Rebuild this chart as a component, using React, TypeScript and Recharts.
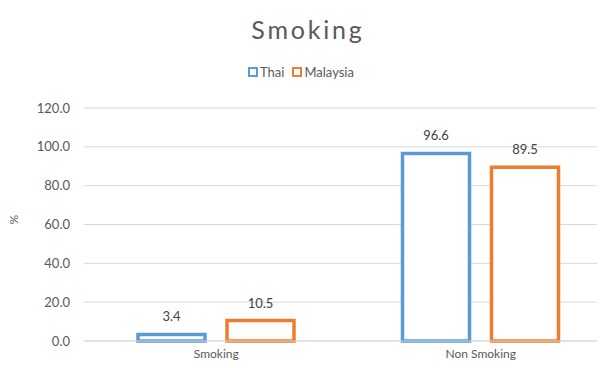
import { BarChart, Bar, XAxis, YAxis, CartesianGrid, LabelList } from "recharts";

const categories = ["Smoking", "Non Smoking"];
const thai = [3.4, 96.6];
const malaysia = [10.5, 89.5];
const yTicks = [0, 20, 40, 60, 80, 100, 120];

const data = categories.map((name, i) => ({ name, thai: thai[i], malaysia: malaysia[i] }));

const font = "Lato, 'Open Sans', sans-serif";
const gray = "#595959";
const blue = "#5B9BD5";
const orange = "#ED7D31";

const legendItems = [
  { label: "Thai", color: blue },
  { label: "Malaysia", color: orange },
];

export default function App() {
  return (
    <div style={{ margin: -8, width: 605, height: 368, overflow: "hidden", position: "relative", background: "#fff" }}>
      <div
        style={{
          position: "absolute",
          top: 14,
          left: 0,
          width: 616,
          textAlign: "center",
          fontFamily: font,
          fontSize: 25,
          letterSpacing: 2.8,
          color: gray,
        }}
      >
        Smoking
      </div>
      <div
        style={{
          position: "absolute",
          top: 64,
          left: 0,
          width: 610,
          display: "flex",
          justifyContent: "center",
          fontFamily: font,
          fontSize: 13,
          color: gray,
        }}
      >
        {legendItems.map((item) => (
          <span key={item.label} style={{ display: "flex", alignItems: "center", marginRight: 8 }}>
            <span
              style={{
                display: "inline-block",
                width: 6,
                height: 6,
                border: `2.5px solid ${item.color}`,
                background: "#fff",
                marginRight: 2,
              }}
            />
            {item.label}
          </span>
        ))}
      </div>
      <BarChart
        width={613}
        height={368}
        data={data}
        margin={{ top: 108, right: 0, bottom: 0, left: 0 }}
        barGap={22}
        barSize={67}
      >
        <CartesianGrid horizontal vertical={false} stroke="#d9d9d9" />
        <XAxis
          dataKey="name"
          height={27}
          axisLine={{ stroke: "#d9d9d9" }}
          tickLine={false}
          tickSize={0}
          tickMargin={8}
          tick={{ fill: gray, fontSize: 12, fontFamily: font }}
        />
        <YAxis
          width={84}
          domain={[0, 120]}
          ticks={yTicks}
          interval={0}
          tickFormatter={(v: number) => v.toFixed(1)}
          axisLine={false}
          tickLine={false}
          tickSize={0}
          tickMargin={14}
          tick={{ fill: gray, fontSize: 13, fontFamily: font }}
          label={{ value: "%", angle: -90, position: "insideLeft", offset: 14, fill: gray, fontSize: 12, fontFamily: font }}
        />
        <Bar dataKey="thai" name="Thai" fill="#fff" stroke={blue} strokeWidth={3.5} isAnimationActive={false}>
          <LabelList dataKey="thai" position="top" offset={13} formatter={(v: number) => v.toFixed(1)} fill="#404040" fontSize={13} fontFamily={font} />
        </Bar>
        <Bar dataKey="malaysia" name="Malaysia" fill="#fff" stroke={orange} strokeWidth={3.5} isAnimationActive={false}>
          <LabelList dataKey="malaysia" position="top" offset={13} formatter={(v: number) => v.toFixed(1)} fill="#404040" fontSize={13} fontFamily={font} />
        </Bar>
      </BarChart>
    </div>
  );
}
